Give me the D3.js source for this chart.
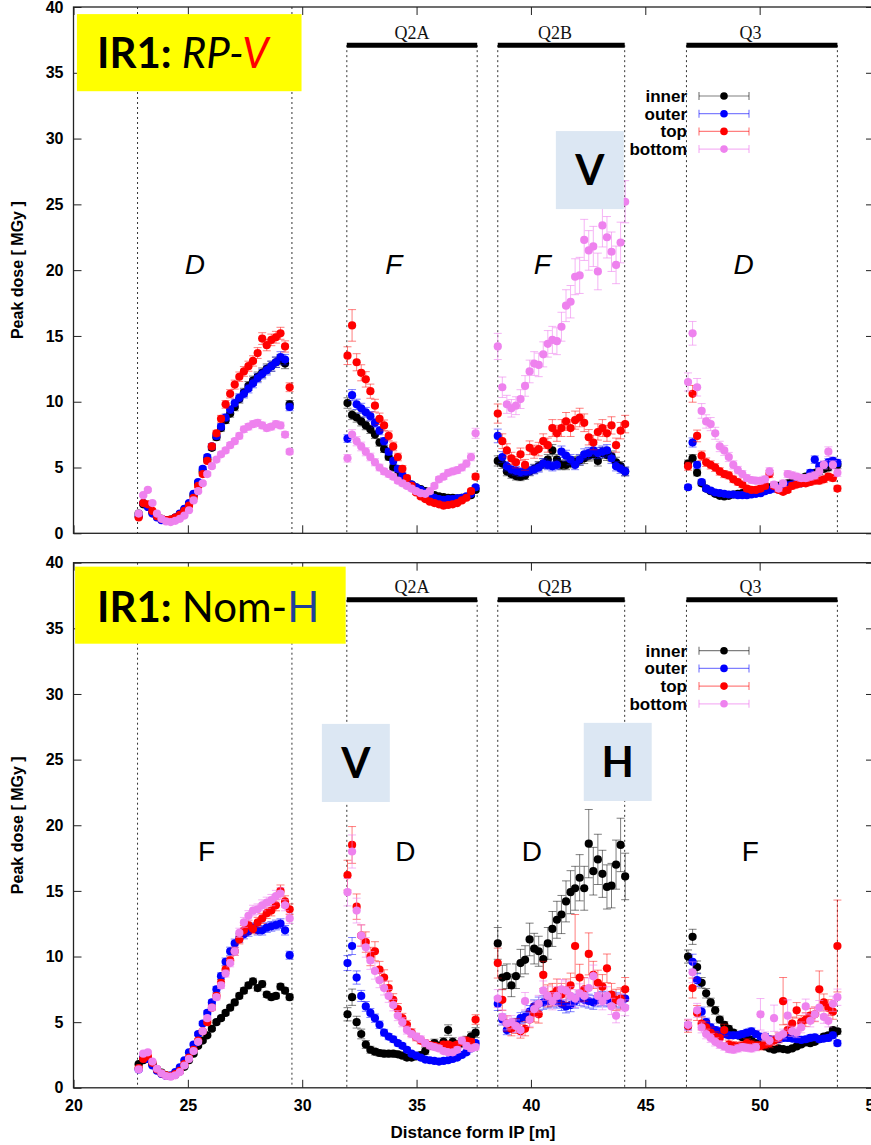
<!DOCTYPE html>
<html>
<head>
<meta charset="utf-8">
<script src="https://cdn.jsdelivr.net/npm/d3@7"></script>
<style>
  body { margin: 0; background: #fff; }
  text { white-space: pre; }
</style>
</head>
<body>
<svg id="chart" width="871" height="1145"></svg>
<script>
// ---------------- data ----------------
const seriesNames  = ["inner", "outer", "top", "bottom"];
const seriesColors = ["#000000", "#0000ff", "#ff0000", "#ee82ee"];
const xTicks = [20, 25, 30, 35, 40, 45, 50, 55];
const yTicks = [0, 5, 10, 15, 20, 25, 30, 35, 40];

// scanned stretches along the beam line: [first sample, last sample] in m
const segments = [[22.85, 29.45], [31.98, 37.58], [38.55, 44.12], [46.87, 53.40]];

// magnet ends (dotted lines) and quadrupole names
const magnetEdges  = [22.8, 29.55, 31.95, 37.65, 38.55, 44.1, 46.8, 53.4];
const magnetNames  = ["Q2A", "Q2B", "Q3"];
const magnetSpans  = [[31.95, 37.65], [38.55, 44.1], [46.8, 53.4]];
const magnetLabelX = [34.8, 41.05, 49.6];

// ---- IR1 RP-V : peak dose [MGy], one array per stretch ----
const rpInner = [
  [1.5,2.2,2.1,1.6,1.3,1.1,1.0,1.05,1.2,1.45,1.8,2.2,2.9,3.8,4.7,5.6,6.5,7.3,8.0,8.6,9.1,9.6,10.2,10.7,11.2,11.6,11.9,12.2,12.5,12.7,13.0,13.2,12.9,9.8],
  [9.9,9.0,8.8,8.5,8.2,7.9,7.5,6.9,6.4,5.8,5.0,4.4,4.1,3.9,3.7,3.5,3.35,3.2,3.05,2.9,2.8,2.75,2.7,2.7,2.65,2.7,2.75,2.9,3.3],
  [5.5,5.3,4.7,4.5,4.35,4.3,4.4,4.7,4.9,5.1,5.3,5.6,6.3,5.6,5.2,5.2,5.35,5.45,5.55,5.7,5.9,6.0,5.5,6.1,5.95,5.85,5.4,5.1,4.7],
  [5.3,5.7,4.6,3.8,3.4,3.2,3.0,2.85,2.8,2.85,2.95,3.0,3.05,3.1,3.1,3.2,3.3,3.4,3.5,3.6,3.6,3.7,3.8,3.9,4.1,4.2,4.3,4.4,4.6,4.7,4.9,5.0,5.2,5.2]
];
const rpOuter = [
  [1.3,2.3,2.0,1.5,1.2,1.0,0.95,1.0,1.2,1.5,1.85,2.3,3.0,3.9,4.9,5.8,6.6,7.4,8.1,8.8,9.4,9.9,10.3,10.6,11.0,11.4,11.8,12.1,12.4,12.7,13.0,13.4,13.2,9.6],
  [7.2,10.5,9.8,9.5,9.2,8.9,8.4,7.8,7.0,6.2,5.5,4.9,4.4,4.0,3.7,3.5,3.3,3.1,2.9,2.7,2.6,2.55,2.6,2.6,2.65,2.7,2.8,3.0,3.5],
  [7.4,5.8,5.1,4.85,4.75,4.65,4.7,4.75,4.85,5.0,5.3,5.2,5.1,5.2,6.2,5.9,5.6,5.2,5.6,6.0,6.1,6.3,6.1,6.2,6.3,5.7,5.1,4.9,4.7],
  [3.5,6.9,5.2,3.9,3.4,3.25,3.1,3.05,3.0,2.95,2.95,2.9,2.9,2.9,2.95,3.0,3.05,3.2,3.3,3.4,3.5,3.6,3.65,3.7,3.75,3.8,4.0,4.6,5.6,5.1,5.2,5.4,5.5,5.35]
];
const rpTop = [
  [1.2,2.3,2.2,1.7,1.3,1.1,1.0,1.05,1.2,1.4,1.7,2.1,2.7,3.6,4.5,5.5,6.6,7.6,8.7,9.8,10.6,11.3,11.9,12.3,12.7,13.1,13.7,14.8,14.3,14.7,14.9,15.2,14.2,11.1],
  [13.5,15.8,13.0,12.2,11.7,10.8,9.7,8.7,8.2,7.4,6.6,5.8,4.9,4.2,3.6,3.1,2.8,2.6,2.4,2.3,2.2,2.1,2.15,2.2,2.3,2.5,2.7,3.2,4.3],
  [9.1,7.0,6.3,5.7,5.4,6.0,5.2,6.5,6.2,6.4,7.0,6.7,8.0,7.6,8.0,8.5,8.0,8.6,8.8,8.4,7.3,6.9,7.7,8.0,7.6,8.2,6.7,7.8,8.3],
  [5.1,10.6,7.4,5.9,5.4,5.2,5.0,4.7,4.5,4.4,4.1,3.9,3.7,3.4,3.3,3.3,3.4,3.6,4.5,3.6,3.3,3.15,3.3,3.6,3.7,3.8,3.8,3.9,4.0,4.0,4.1,4.3,4.2,3.4]
];
const rpBottom = [
  [1.5,2.9,3.3,2.3,1.5,1.1,0.9,0.85,0.95,1.1,1.35,1.75,2.5,3.2,3.8,4.5,5.1,5.6,6.0,6.3,6.7,7.0,7.4,7.9,8.1,8.3,8.4,8.2,8.0,8.1,8.3,8.2,7.5,6.2],
  [5.7,7.5,7.0,6.6,6.2,5.8,5.4,5.0,4.7,4.5,4.3,4.0,3.8,3.6,3.4,3.2,3.05,3.0,3.2,3.6,4.1,4.3,4.6,4.7,4.8,5.0,5.3,5.8,7.6],
  [14.2,11.1,9.8,9.5,9.7,10.2,11.2,12.3,12.9,12.8,13.6,14.4,14.7,14.6,15.7,17.3,17.6,19.5,19.6,22.3,21.5,21.8,19.9,23.4,22.5,21.4,20.4,22.1,25.2],
  [11.5,15.2,11.1,9.3,8.5,8.3,7.6,6.6,6.3,5.8,5.2,4.8,4.5,4.2,4.05,4.0,4.0,4.1,4.7,3.7,3.4,3.8,4.5,4.4,4.3,4.2,4.2,4.3,4.4,4.7,5.2,6.2,5.2,4.6]
];
// relative statistical error, [series][stretch]
const rpRelErr = [[0.03,0.04,0.07,0.05],[0.03,0.04,0.07,0.05],[0.03,0.05,0.08,0.06],[0.03,0.05,0.07,0.06]];
// samples with a larger absolute error: [series, stretch, sample, error MGy]
const rpWideErr = [[2,1,1,1.2],[3,2,28,1.6],[3,3,1,0.9]];

// ---- IR1 Nom-H : peak dose [MGy] ----
const nomInner = [
  [1.8,2.1,2.2,1.8,1.4,1.15,0.95,0.9,1.0,1.25,1.6,2.1,2.6,3.2,3.6,4.0,4.5,5.0,5.3,5.7,6.1,6.5,7.0,7.4,7.8,8.1,7.6,7.9,7.1,6.9,7.0,7.7,7.4,6.9],
  [5.6,6.9,5.0,4.1,3.3,2.9,2.75,2.65,2.6,2.6,2.6,2.55,2.45,2.3,2.3,2.4,2.5,2.8,3.2,3.4,3.2,3.5,4.4,3.5,3.3,3.4,3.6,3.9,4.2],
  [11.0,8.4,8.5,7.8,8.5,9.5,9.75,11.3,10.6,10.4,9.8,11.0,12.1,12.8,13.2,14.2,14.9,15.2,16.0,15.2,18.6,16.5,17.4,16.3,15.3,15.4,17.0,18.5,16.1],
  [10.0,11.5,9.2,8.0,7.2,6.5,5.9,5.2,4.8,4.5,4.2,4.0,3.85,3.8,3.65,3.4,3.3,3.15,3.0,2.9,3.0,2.95,2.9,3.0,3.15,3.3,3.45,3.4,3.5,3.7,3.9,4.0,4.4,4.3]
];
const nomOuter = [
  [1.4,2.3,2.2,1.7,1.3,1.05,0.9,0.95,1.2,1.55,2.1,2.7,3.3,4.1,4.9,5.7,6.5,7.5,8.5,9.6,10.4,11.0,11.4,11.7,11.9,12.2,12.0,12.0,12.2,12.3,12.4,12.5,12.0,10.1],
  [9.5,10.8,8.4,7.0,6.2,5.7,5.3,4.8,4.2,3.9,3.7,3.4,3.2,2.9,2.6,2.45,2.3,2.15,2.1,2.05,2.0,2.05,2.1,2.2,2.3,2.5,2.7,3.0,3.4],
  [6.4,5.2,4.4,4.6,4.9,5.3,5.4,5.8,6.2,6.4,6.5,6.6,6.7,6.6,6.4,6.2,6.3,6.6,6.8,6.7,6.6,6.5,6.7,6.8,6.7,6.8,6.7,6.6,6.8],
  [4.7,9.6,8.2,5.8,5.0,4.6,4.4,4.3,4.1,4.0,4.0,4.0,4.1,4.2,4.3,4.1,3.9,3.9,3.7,3.65,3.7,3.8,3.8,3.75,3.7,3.65,3.7,3.8,3.85,3.7,3.75,3.8,4.0,3.4]
];
const nomTop = [
  [1.5,2.2,2.4,1.9,1.4,1.1,0.95,0.9,1.05,1.3,1.8,2.3,2.9,3.6,4.3,5.0,6.1,7.0,8.0,9.0,9.7,10.4,11.3,12.0,12.4,12.1,12.6,12.9,13.3,13.5,13.9,15.0,14.2,13.6],
  [16.2,18.5,13.8,11.6,11.1,10.0,10.4,9.0,8.4,7.6,6.7,6.0,5.3,4.8,4.2,3.85,3.6,3.4,3.25,3.2,3.1,3.3,3.3,3.2,3.3,3.5,3.6,3.5,5.2],
  [9.5,6.7,4.9,4.5,4.7,4.3,4.5,5.2,5.7,5.6,8.6,7.0,7.1,7.4,7.1,7.4,7.8,10.8,8.4,7.5,10.2,8.6,8.0,7.7,9.1,7.1,6.7,6.8,7.5],
  [4.7,7.6,5.7,4.9,4.6,4.2,3.9,3.8,4.4,3.3,3.2,3.15,3.2,3.4,3.3,3.2,3.2,3.3,3.4,3.6,3.8,6.6,4.4,4.9,5.9,5.0,5.2,5.5,5.6,7.5,6.5,6.1,5.8,10.8]
];
const nomBottom = [
  [1.4,2.6,2.7,2.0,1.45,1.1,0.9,0.85,0.95,1.2,1.7,2.2,2.8,3.5,4.3,5.3,6.1,6.9,7.8,8.7,9.5,10.4,11.8,12.6,13.1,13.5,13.6,13.9,14.1,14.3,14.6,14.8,13.9,12.9],
  [14.9,18.0,13.5,11.6,10.7,9.7,8.9,8.2,7.6,7.0,6.3,5.5,5.0,4.4,4.1,3.9,3.7,3.4,3.2,3.1,3.0,2.8,2.7,2.7,2.9,3.6,3.2,3.0,3.1],
  [6.8,5.4,4.9,5.0,4.7,4.4,6.6,5.2,6.0,6.4,7.4,7.0,6.6,7.0,7.5,7.4,7.0,6.8,7.2,7.0,7.6,8.5,7.0,6.6,7.0,6.2,5.5,6.5,6.1],
  [4.8,8.8,5.9,4.6,4.1,3.8,3.5,3.3,3.15,2.95,2.9,3.0,3.1,3.05,3.0,3.1,5.6,3.9,3.6,5.3,3.9,4.1,5.5,4.3,4.2,4.6,6.2,5.1,5.6,6.1,5.4,5.1,6.4,6.9]
];
const nomRelErr = [[0.03,0.09,0.11,0.05],[0.03,0.06,0.08,0.06],[0.03,0.07,0.12,0.10],[0.03,0.07,0.10,0.09]];
const nomWideErr = [[2,3,33,3.5],[2,3,21,1.8],[2,3,29,1.4],[3,3,16,1.2],[3,3,19,1.0],[3,3,22,1.2],[2,2,17,2.4],[2,2,20,1.6],[0,2,20,2.6],[2,1,1,1.4]];

// ---------------- layout ----------------
const FONT = "'Liberation Sans', Arial, sans-serif";
const svg = d3.select("#chart");
const x = d3.scaleLinear().domain([20, 55]).range([73.5, 874]);

const panels = [
  {
    y0: 533.3, y40: 7,
    series: [rpInner, rpOuter, rpTop, rpBottom], relErr: rpRelErr, wideErr: rpWideErr,
    barLevel: 37.1, barLabelLevel: 37.6, xLabels: false,
    legendTop: 96, legendStep: 17.7,
    title: { box: [20.15, 29.97, 39.46, 33.6], parts: [["IR1: ", "bold", "normal", "#000"], ["RP-", "normal", "italic", "#000"], ["V", "normal", "italic", "#ff0000"]], base: 68 },
    tags: [{ t: "V", box: [41.09, 44.06, 30.57, 24.64] }],
    letters: [["D", 25.31, true], ["F", 34.0, true], ["F", 40.5, true], ["D", 49.3, true]], letterLevel: 19.7
  },
  {
    y0: 1087.8, y40: 562.7,
    series: [nomInner, nomOuter, nomTop, nomBottom], relErr: nomRelErr, wideErr: nomWideErr,
    barLevel: 37.17, barLabelLevel: 37.7, xLabels: true,
    legendTop: 650.7, legendStep: 17.7,
    title: { box: [20.07, 31.9, 39.7, 33.83], parts: [["IR1: ", "bold", "normal", "#000"], ["Nom-", "normal", "normal", "#000"], ["H", "normal", "normal", "#1f3f99"]], base: 621.7 },
    tags: [{ t: "V", box: [30.86, 33.83, 27.72, 21.77] }, { t: "H", box: [42.31, 45.28, 27.8, 21.85] }],
    letters: [["F", 25.82, false], ["D", 34.51, false], ["D", 40.04, false], ["F", 49.59, false]], letterLevel: 17.24
  }
];

panels.forEach(p => {
  const y = d3.scaleLinear().domain([0, 40]).range([p.y0, p.y40]);
  const g = svg.append("g");

  // dotted magnet boundaries
  g.append("g").selectAll("line").data(magnetEdges).join("line")
    .attr("x1", d => x(d)).attr("x2", d => x(d))
    .attr("y1", (d, i) => i < 2 ? y(40) : y(p.barLevel)).attr("y2", y(0))
    .attr("stroke", "#333").attr("stroke-width", 1).attr("stroke-dasharray", "2,3");

  // quadrupole bars and names
  g.append("g").selectAll("line").data(magnetSpans).join("line")
    .attr("x1", d => x(d[0])).attr("x2", d => x(d[1]))
    .attr("y1", y(p.barLevel)).attr("y2", y(p.barLevel))
    .attr("stroke", "#000").attr("stroke-width", 5);
  g.append("g").selectAll("text").data(magnetNames).join("text")
    .attr("x", (d, i) => x(magnetLabelX[i])).attr("y", y(p.barLabelLevel))
    .attr("text-anchor", "middle").attr("font-family", "'Liberation Serif', 'Times New Roman', serif")
    .attr("font-size", 18).attr("fill", "#111").text(d => d);

  // dose samples with error bars
  p.series.forEach((stretches, s) => {
    const pts = [];
    stretches.forEach((vals, k) => {
      const [a, b] = segments[k];
      const step = (b - a) / (vals.length - 1);
      vals.forEach((v, i) => {
        const wide = p.wideErr.find(w => w[0] === s && w[1] === k && w[2] === i);
        pts.push({ x: a + i * step, v, e: wide ? wide[3] : v * p.relErr[s][k] });
      });
    });
    const sg = g.append("g");
    const eb = sg.append("g").attr("stroke", seriesColors[s])
      .attr("stroke-opacity", s === 3 ? 0.6 : 0.5).attr("stroke-width", 1);
    eb.selectAll("line.v").data(pts).join("line").attr("class", "v")
      .attr("x1", d => x(d.x)).attr("x2", d => x(d.x))
      .attr("y1", d => y(d.v - d.e)).attr("y2", d => y(d.v + d.e));
    eb.selectAll("line.t").data(pts).join("line").attr("class", "t")
      .attr("x1", d => x(d.x) - 4).attr("x2", d => x(d.x) + 4)
      .attr("y1", d => y(d.v + d.e)).attr("y2", d => y(d.v + d.e));
    eb.selectAll("line.b").data(pts).join("line").attr("class", "b")
      .attr("x1", d => x(d.x) - 4).attr("x2", d => x(d.x) + 4)
      .attr("y1", d => y(d.v - d.e)).attr("y2", d => y(d.v - d.e));
    sg.append("g").selectAll("circle").data(pts).join("circle")
      .attr("cx", d => x(d.x)).attr("cy", d => y(d.v)).attr("r", 4.1)
      .attr("fill", seriesColors[s]);
  });

  // field orientation letters
  g.append("g").selectAll("text").data(p.letters).join("text")
    .attr("x", d => x(d[1])).attr("y", y(p.letterLevel))
    .attr("text-anchor", "middle").attr("font-family", FONT).attr("font-size", 28)
    .attr("font-style", d => d[2] ? "italic" : "normal").attr("fill", "#000").text(d => d[0]);

  // crossing-plane tags
  p.tags.forEach(tg => {
    const [x0, x1, yt, yb] = tg.box;
    g.append("rect").attr("x", x(x0)).attr("y", y(yt))
      .attr("width", x(x1) - x(x0)).attr("height", y(yb) - y(yt)).attr("fill", "#dce7f3");
    g.append("text").attr("x", (x(x0) + x(x1)) / 2).attr("y", y(yb) - 24)
      .attr("text-anchor", "middle").attr("font-family", "Lato, 'Open Sans', sans-serif")
      .attr("font-weight", "bold").attr("font-size", 42).attr("fill", "#000").text(tg.t);
  });

  // axes: gnuplot-style inward ticks on all four sides
  const style = sel => {
    sel.select(".domain").remove();
    sel.selectAll(".tick line").attr("stroke", "#222").attr("stroke-width", 1);
    sel.attr("font-family", FONT).attr("font-size", 16).attr("font-weight", "bold");
    sel.selectAll(".tick text").attr("fill", "#000");
  };
  g.append("g").attr("transform", `translate(${x(20)},0)`)
    .call(d3.axisLeft(y).tickValues(yTicks).tickSize(-8).tickPadding(10)).call(style);
  g.append("g").attr("transform", `translate(${x(55)},0)`)
    .call(d3.axisRight(y).tickValues(yTicks).tickSize(-8).tickFormat("")).call(style);
  g.append("g").attr("transform", `translate(0,${y(0)})`)
    .call(d3.axisBottom(x).tickValues(xTicks).tickSize(-8).tickPadding(12)
      .tickFormat(p.xLabels ? d3.format("d") : "")).call(style);
  g.append("g").attr("transform", `translate(0,${y(40)})`)
    .call(d3.axisTop(x).tickValues(xTicks).tickSize(-8).tickFormat("")).call(style);
  g.append("rect").attr("x", x(20)).attr("y", y(40))
    .attr("width", x(55) - x(20)).attr("height", y(0) - y(40))
    .attr("fill", "none").attr("stroke", "#222").attr("stroke-width", 1.3);

  // yellow title box
  const tb = p.title.box;
  g.append("rect").attr("x", x(tb[0])).attr("y", y(tb[2]))
    .attr("width", x(tb[1]) - x(tb[0])).attr("height", y(tb[3]) - y(tb[2])).attr("fill", "#ffff00");
  const tt = g.append("text").attr("x", 97).attr("y", p.title.base)
    .attr("font-family", "Lato, 'Open Sans', sans-serif").attr("font-size", 42);
  p.title.parts.forEach(([str, w, st, c]) => {
    tt.append("tspan").attr("font-weight", w).attr("font-style", st).attr("fill", c).text(str);
  });

  // legend
  const lg = g.append("g");
  seriesNames.forEach((name, s) => {
    const ly = p.legendTop + s * p.legendStep;
    lg.append("text").attr("x", 687).attr("y", ly).attr("dy", "0.35em")
      .attr("text-anchor", "end").attr("font-family", FONT).attr("font-size", 17)
      .attr("font-weight", "bold").attr("fill", "#000").text(name);
    const lc = lg.append("g").attr("stroke", seriesColors[s])
      .attr("stroke-opacity", s === 3 ? 0.6 : 0.5).attr("stroke-width", 1.2);
    lc.append("line").attr("x1", 699).attr("x2", 749).attr("y1", ly).attr("y2", ly);
    lc.append("line").attr("x1", 699).attr("x2", 699).attr("y1", ly - 4).attr("y2", ly + 4);
    lc.append("line").attr("x1", 749).attr("x2", 749).attr("y1", ly - 4).attr("y2", ly + 4);
    lg.append("circle").attr("cx", 724).attr("cy", ly).attr("r", 3.8).attr("fill", seriesColors[s]);
  });

  // y axis title
  g.append("text")
    .attr("transform", `translate(17,${(y(0) + y(40)) / 2}) rotate(-90)`)
    .attr("text-anchor", "middle").attr("dy", "0.35em")
    .attr("font-family", FONT).attr("font-size", 16).attr("font-weight", "bold")
    .text("Peak dose [ MGy ]");
});

// x axis title
svg.append("text").attr("x", 473).attr("y", 1138).attr("text-anchor", "middle")
  .attr("font-family", FONT).attr("font-size", 17).attr("font-weight", "bold")
  .text("Distance form IP [m]");
</script>
</body>
</html>
